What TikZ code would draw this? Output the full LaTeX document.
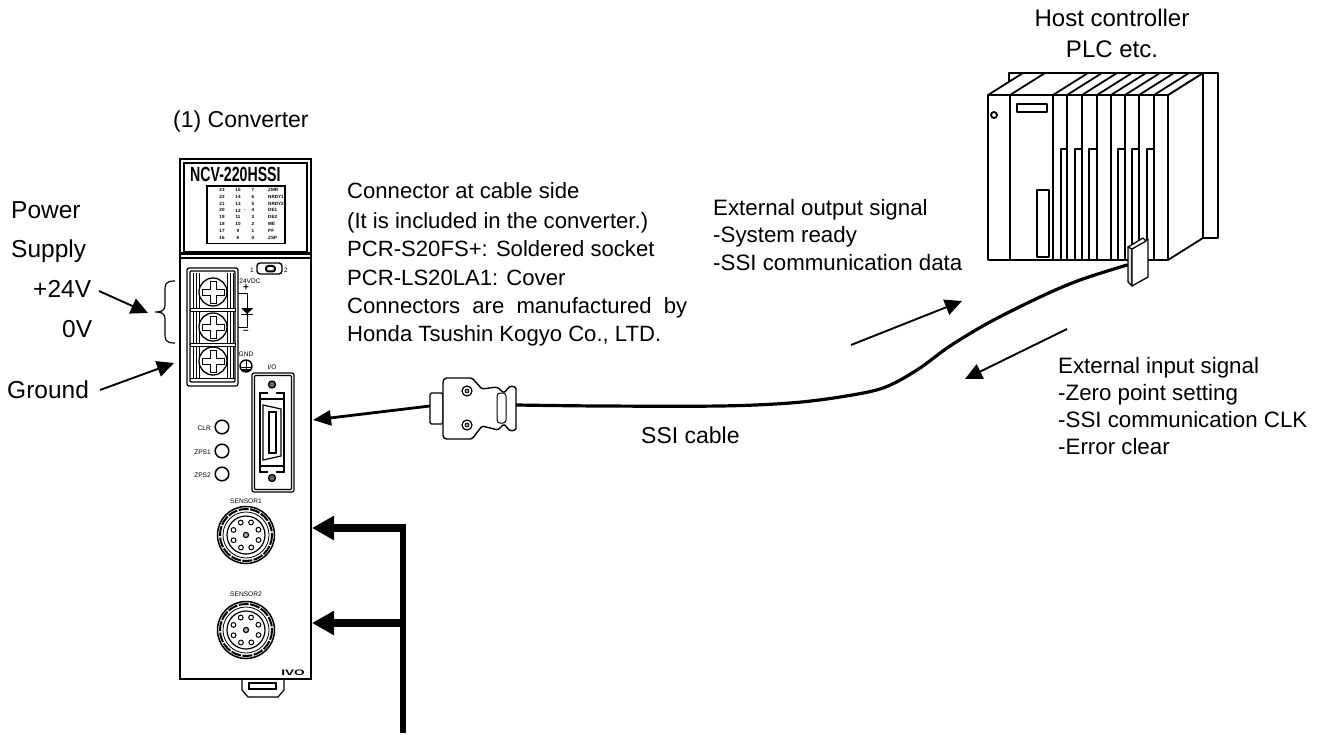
\documentclass[tikz,border=0pt]{standalone}
\usepackage{fontspec}
\usepackage{graphicx}
\setmainfont{Liberation Sans}
\usetikzlibrary{arrows.meta}
\tikzset{
  lbl/.style={inner sep=0pt,anchor=base west,font=\fontsize{22.1}{24}\selectfont},
  lblx/.style={inner sep=0pt,anchor=base west,font=\fontsize{22.3}{24}\selectfont},
  lblb/.style={inner sep=0pt,anchor=base west,font=\fontsize{24.5}{26}\selectfont},
  tiny/.style={inner sep=0pt,font=\fontsize{6.6}{7}\selectfont},
  tbl/.style={inner sep=0pt,font=\bfseries\fontsize{4.6}{5}\selectfont},
  dev/.style={draw=black,line width=1.7pt,fill=white},
  pointer/.style={draw=black,line width=1.9pt,-{Triangle[length=17pt,width=16pt]}},
  bigpointer/.style={draw=black,line width=8pt,-{Triangle[length=22pt,width=23pt]}},
  cable/.style={draw=black,line width=3.2pt,line cap=round},
  plc/.style={draw=black,line width=1.8pt,line join=round},
  screwc/.style={draw=black,line width=1.3pt,fill=white},
}
\newcommand{\screwhead}[2]{%
  \draw[screwc] (#1,#2) circle (14);
  \draw[draw=black,line width=.9pt,fill=white] (#1-3,#2-11)--(#1+3,#2-11)--(#1+3,#2-3)--(#1+11,#2-3)--(#1+11,#2+3)--(#1+3,#2+3)--(#1+3,#2+11)--(#1-3,#2+11)--(#1-3,#2+3)--(#1-11,#2+3)--(#1-11,#2-3)--(#1-3,#2-3)--cycle;}
\newcommand{\sensorconn}[2]{%
  \draw[draw=black,line width=1.5pt,fill=white] (#1,#2) circle (28.5);
  \draw[draw=black,line width=2pt,dash pattern=on 10pt off 1.5pt] (#1,#2) circle (26);
  \draw[draw=black,line width=.8pt] (#1,#2) circle (23);
  \draw[draw=black,line width=1.2pt] (#1,#2) circle (19);
  \draw[draw=black,line width=1.1pt,fill=black!30] (#1,#2) circle (2.6);
  \foreach \a in {22,67,112,157,202,247,292,337}{
    \draw[draw=black,line width=1pt,fill=white] ({#1+13.5*cos(\a)},{#2+13.5*sin(\a)}) circle (2.4);}}
\newcommand{\ledc}[2]{\draw[draw=black,line width=1.5pt,fill=white] (#1,#2) circle (6.8);}
\begin{document}
\begin{tikzpicture}[x=1pt,y=-1pt]
\useasboundingbox (0,0) rectangle (1327,735);
% ---- converter body
\draw[dev] (180,159) rectangle (311,679);
\draw[draw=black,line width=1.2pt] (184,163) rectangle (307,252);
\fill[black] (180,252) rectangle (311,255);
\fill[black] (180,257) rectangle (311,259.5);
\node[inner sep=0pt,anchor=base west] (model) at (190,182) {\scalebox{.69}[1]{\bfseries\fontsize{20.5}{21}\selectfont NCV-220HSSI}};
\draw[draw=black,line width=1.3pt] (207,186) rectangle (285,243.5);
\foreach \y/\a/\b/\c/\d in {190/23/15/7/ZMR,196.8/22/14/6/NRDY1,203.6/21/13/5/NRDY2,210.4/20/12/4/DE1,217.2/19/11/3/DE2,224/18/10/2/ME,230.8/17/9/1/PF,237.6/16/8/0/ZSP}{
  \node[tbl] at (222,\y) {\a};
  \node[tbl] at (238,\y) {\b};
  \node[tbl] at (253,\y) {\c};
  \node[tbl,anchor=west] at (268,\y) {\d};}
\node[tbl] at (245,210.4) {-};
% ---- terminal block
\draw[draw=black,line width=1.2pt,fill=white,rounded corners=2pt] (187,268) rectangle (238,386);
\draw[draw=black,line width=1.2pt,fill=white,rounded corners=1pt] (190,271) rectangle (235,382);
\foreach \x in {193,196,199,227,230,233}{\draw[draw=black,line width=.9pt] (\x,273)--(\x,378);}
\foreach \y in {308,343}{\draw[draw=black,fill=white,line width=.9pt] (190,\y) rectangle (235,\y+3);}
\draw[draw=black,line width=.9pt] (190,378)--(235,378);
\screwhead{213}{292}
\screwhead{213}{327}
\screwhead{213}{361}
% ---- selector switch
\node[tiny] (sw1) at (252,270) {1};
\draw[draw=black,line width=1.4pt,rounded corners=3pt,fill=white] (257,263) rectangle (282,274);
\draw[draw=black,line width=2pt,rounded corners=2.5pt] (266,266) rectangle (275,271.5);
\node[tiny] (sw2) at (286,270) {2};
% ---- supply marks
\node[tiny] (vdc) at (250,281) {24VDC};
\node[inner sep=0pt,font=\bfseries\fontsize{10}{10}\selectfont] (plusmark) at (246,288) {+};
\node[inner sep=0pt,font=\bfseries\fontsize{10}{10}\selectfont] (minusmark) at (246,332) {--};
\draw[draw=black,line width=.9pt] (238,293)--(247,293)--(247,327)--(238,327);
\fill[black] (241,308)--(253,308)--(247,314)--cycle;
\draw[draw=black,line width=1pt] (241,314)--(253,314);
\node[tiny] (gndt) at (246,354) {GND};
\draw[draw=black,line width=1.4pt,fill=white] (246,366) circle (6);
\draw[draw=black,line width=1pt] (246,360)--(246,369) (240,367)--(252,367);
\fill[black] (241,369) rectangle (251,371);
% ---- I/O connector
\node[tiny] (iot) at (272,367) {I/O};
\draw[draw=black,line width=1.2pt,fill=white,rounded corners=2pt] (252,373) rectangle (294,492);
\draw[draw=black,line width=1.2pt,rounded corners=1pt] (254.5,375.5) rectangle (291.5,489.5);
\draw[draw=black,line width=1.2pt,fill=white] (260,393) rectangle (284,472);
\fill[white] (268,392) rectangle (276,394) (268,471) rectangle (276,473);
\draw[draw=black,line width=1.2pt] (260,399)--(284,399) (260,466)--(284,466);
\draw[draw=black,line width=1.2pt,fill=white] (263,405)--(281,409)--(281,456)--(263,460)--cycle;
\draw[draw=black,line width=1.2pt] (269,412) rectangle (276,453);
\draw[draw=black,line width=1.3pt,fill=black!60] (272,384.5) circle (3.5);
\draw[draw=black,line width=1.3pt,fill=black!60] (272,478) circle (3.5);
% ---- LEDs
\ledc{222}{427}
\ledc{222}{451}
\ledc{222}{474}
\node[tiny,anchor=east] (clr) at (211,428) {CLR};
\node[tiny,anchor=east] (zps1) at (211,452) {ZPS1};
\node[tiny,anchor=east] (zps2) at (211,475) {ZPS2};
% ---- sensors
\node[tiny] (s1) at (246,501) {SENSOR1};
\sensorconn{246}{535}
\node[tiny] (s2) at (246,594) {SENSOR2};
\sensorconn{246}{630}
% logo
\node[inner sep=0pt] (logo) at (293,672.5) {\scalebox{1.7}[1]{\bfseries\fontsize{8}{8}\selectfont IVO}};
% din tab
\draw[draw=black,line width=1.2pt] (242,679)--(242,690)--(248,697)--(278,697)--(284,690)--(284,679);
\draw[draw=black,line width=1.2pt] (249,683) rectangle (276,689);
% ---- labels left
\node[lblb] (power) at (11,219) {Power};
\node[lblb] (supply) at (11,258) {Supply};
\node[lblb] (p24) at (33,297) {+24V};
\node[lblb] (zv) at (62,337) {0V};
\node[lblb] (ground) at (7,398) {Ground};
\node[lbl,font=\fontsize{23}{25}\selectfont] (conv) at (173,128) {(1) Converter};
\coordinate (p24s) at (99,291);
\coordinate (p24e) at (148,313);
\coordinate (gs) at (100,390);
\coordinate (ge) at (174,363);
\draw[pointer] (p24s)--(p24e);
\draw[pointer] (gs)--(ge);
\draw[draw=black,line width=1.2pt] (175,281) .. controls (165,281) and (165,284) .. (165,292) -- (165,304) .. controls (165,311) and (162,312) .. (155,312) .. controls (162,312) and (165,313) .. (165,320) -- (165,332) .. controls (165,340) and (165,343) .. (175,343);
% ---- notes
\node[lbl] (n1) at (347,199) {Connector at cable side};
\node[lbl] (n2) at (347,229) {(It is included in the converter.)};
\node[lbl] (n3) at (347,257) {PCR-S20FS+: Soldered socket};
\node[lbl] (n4) at (347,285.5) {PCR-LS20LA1: Cover};
\node[lbl] (n5) at (347,313) {\makebox[340pt][s]{Connectors are manufactured by}};
\node[lbl] (n6) at (347,341) {Honda Tsushin Kogyo Co., LTD.};
\node[lblx] (o1) at (713,216) {External output signal};
\node[lblx] (o2) at (713,243) {-System ready};
\node[lblx] (o3) at (713,270) {-SSI communication data};
\node[lblx] (i1) at (1058,373) {External input signal};
\node[lblx] (i2) at (1058,400) {-Zero point setting};
\node[lblx] (i3) at (1058,427) {-SSI communication CLK};
\node[lblx] (i4) at (1058,454) {-Error clear};
\node[lbl,font=\fontsize{23}{25}\selectfont] (ssi) at (641,443) {SSI cable};
\node[inner sep=0pt,anchor=base,font=\fontsize{24}{26}\selectfont] (h1) at (1112,27) {Host controller};
\node[inner sep=0pt,anchor=base,font=\fontsize{24}{26}\selectfont] (h2) at (1112,58) {PLC etc.};
% ---- PLC
\draw[plc,fill=white] (1203,73)--(1218,73)--(1218,238)--(1203,238)--cycle;
\draw[plc] (1009,83)--(1009,73)--(1218,73);
\draw[plc,fill=white] (1168,95)--(1203,73)--(1203,238)--(1168,260)--cycle;
\draw[plc,fill=white] (988,95)--(1023,73)--(1203,73)--(1168,95)--cycle;
\foreach \x in {1010,1053,1067,1082,1097,1111,1125,1139,1154}{\draw[plc] (\x,95)--(\x+35,73);}
\draw[plc,fill=white] (988,95) rectangle (1168,260);
\foreach \x in {1010,1053,1067,1082,1097,1111,1125,1139,1154}{\draw[plc] (\x,95)--(\x,260);}
\foreach \x/\y in {1061/1067,1075/1082,1089/1097,1118/1125,1132/1139,1147/1154}{\draw[plc] (\x,260)--(\x,149)--(\y,149);}
\draw[plc] (994,115) circle (3);
\draw[plc] (1017,104) rectangle (1047,112);
\draw[plc] (1037,190) rectangle (1049,257);
% ---- cable and connectors
\draw[cable] plot[smooth,tension=.55] coordinates {(516,405) (600,406) (720,406) (790,403) (840,397) (883,388) (917,370) (950,346) (990,322) (1040,297) (1080,280) (1127,265)};
\draw[draw=black,line width=1.3pt,fill=black!12,line join=round] (1128,247)--(1132,248)--(1132,286)--(1128,282)--cycle;
\draw[draw=black,line width=1.3pt,fill=white,line join=round] (1132,248)--(1148,239)--(1148,277)--(1132,286)--cycle;
\draw[draw=black,line width=1.3pt,fill=white,line join=round] (1128,247)--(1143,238)--(1146,241)--(1132,249)--cycle;
% SSI plug
\coordinate (plugl) at (430,406);
\coordinate (plugtip) at (313,420);
\draw[draw=black,line width=2.8pt,-{Triangle[length=18pt,width=15pt]}] (plugl)--(plugtip);
\draw[dev,line width=1.4pt,rounded corners=1.5pt] (430,393) rectangle (443,424);
\draw[dev,line width=1.4pt,rounded corners=1.5pt,line join=round] (443,381)--(445,378)--(472,378)--(482,389)--(497,387)--(504,393)--(510,386)--(516,387)--(516,430)--(510,431)--(504,424)--(498,430)--(482,426)--(472,439)--(445,439)--(443,437)--cycle;
\draw[draw=black,line width=1pt,rounded corners=3pt] (497,393) rectangle (506,423);
\draw[draw=black,line width=1.2pt,fill=white] (467,391) circle (5);
\draw[draw=black,line width=1.2pt,fill=white] (467,425) circle (5);
\draw[draw=black,line width=.8pt,fill=black!40] (467,391) circle (2);
\draw[draw=black,line width=.8pt,fill=black!40] (467,425) circle (2);
% signal arrows
\coordinate (os) at (851,345);
\coordinate (oe) at (962,301);
\coordinate (is) at (1067,329);
\coordinate (ie) at (965,379);
\draw[pointer] (os)--(oe);
\draw[pointer] (is)--(ie);
% sensor cable arrows
\coordinate (t1) at (312,528);
\coordinate (t2) at (312,623);
\coordinate (bend) at (403,528);
\coordinate (bot) at (403,733);
\draw[bigpointer] (bend)--(t1);
\draw[bigpointer] (403,623)--(t2);
\draw[draw=black,line width=6.5pt] (403,524)--(bot);
\end{tikzpicture}
\end{document}
